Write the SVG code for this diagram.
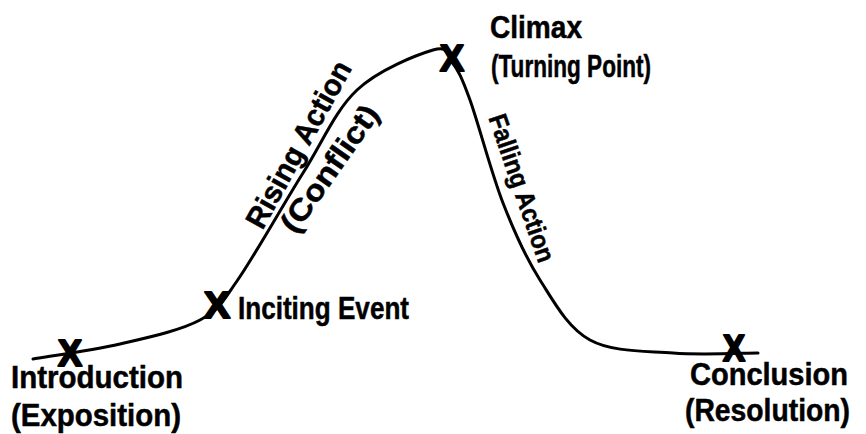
<svg xmlns="http://www.w3.org/2000/svg" width="866" height="434" viewBox="0 0 866 434">
<style>
.lbl{font-family:"Liberation Sans",Arial,sans-serif;font-weight:bold;font-size:32px;fill:#000;stroke:#000;stroke-width:0.5}
.mk{font-family:"Liberation Sans",Arial,sans-serif;font-weight:bold;font-size:36px;fill:#000;stroke:#000;stroke-width:2.2;stroke-linejoin:round;text-anchor:middle}
.rot{font-family:"Liberation Sans",Arial,sans-serif;font-weight:bold;fill:#000;stroke:#000;stroke-width:0.5;text-anchor:middle}
.arc{fill:none;stroke:#000;stroke-width:3;stroke-linecap:round}
</style>
<rect width="866" height="434" fill="#fff"/>
<g id="connectors">
<path class="arc" d="M33,359 C47.5,356.5 92.2,350.5 120,344 C147.8,337.5 180.5,330.5 200,320 C219.5,309.5 219.8,305.5 237,281 C254.2,256.5 283,204.8 303,173 C323,141.2 335.3,110.5 357,90 C378.7,69.5 417.2,54.7 433,50 C448.8,45.3 445.8,53.7 452,62 C458.2,70.3 461.5,76.5 470,100 C478.5,123.5 491.3,173 503,203 C514.7,233 525.5,257.2 540,280 C554.5,302.8 567.8,327.8 590,340 C612.2,352.2 645,350.8 673,353 C701,355.2 743.8,353 758,353"/>
</g>
<g id="introduction">
<text class="mk" x="70" y="366" textLength="24" lengthAdjust="spacingAndGlyphs">X</text>
<text class="lbl" x="11" y="388" textLength="172" lengthAdjust="spacingAndGlyphs">Introduction</text>
<text class="lbl" x="11" y="426" textLength="170" lengthAdjust="spacingAndGlyphs">(Exposition)</text>
</g>
<g id="inciting-event">
<text class="mk" x="217" y="318" textLength="26" lengthAdjust="spacingAndGlyphs">X</text>
<text class="lbl" x="238" y="319" textLength="171" lengthAdjust="spacingAndGlyphs">Inciting Event</text>
</g>
<g id="rising-action">
<text class="rot" font-size="30" transform="translate(298,144) rotate(-61)" y="11" textLength="186" lengthAdjust="spacingAndGlyphs">Rising Action</text>
<text class="rot" font-size="30" transform="translate(329,168) rotate(-55)" y="11" textLength="148" lengthAdjust="spacingAndGlyphs">(Conflict)</text>
</g>
<g id="climax">
<text class="mk" x="452" y="71" textLength="24" lengthAdjust="spacingAndGlyphs">X</text>
<text class="lbl" x="490" y="38" textLength="92" lengthAdjust="spacingAndGlyphs">Climax</text>
<text class="lbl" x="491" y="77" textLength="160" lengthAdjust="spacingAndGlyphs">(Turning Point)</text>
</g>
<g id="falling-action">
<text class="rot" font-size="26" transform="translate(522,188) rotate(71)" y="9" textLength="155" lengthAdjust="spacingAndGlyphs">Falling Action</text>
</g>
<g id="conclusion">
<text class="mk" x="734" y="361" textLength="22" lengthAdjust="spacingAndGlyphs">X</text>
<text class="lbl" x="690" y="385" textLength="158" lengthAdjust="spacingAndGlyphs">Conclusion</text>
<text class="lbl" x="685" y="421" textLength="165" lengthAdjust="spacingAndGlyphs">(Resolution)</text>
</g>
</svg>
